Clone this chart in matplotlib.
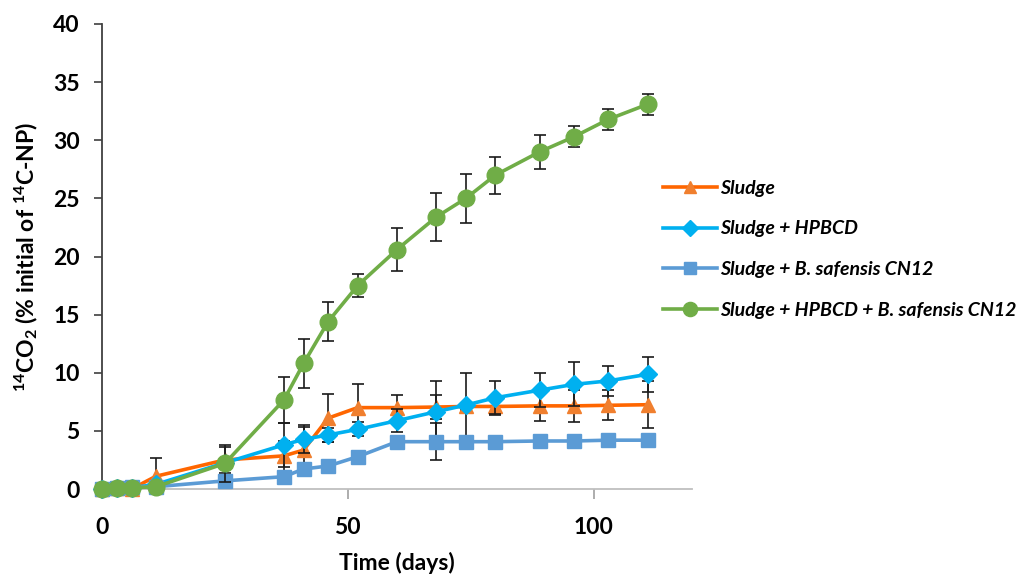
import numpy as np
import matplotlib
matplotlib.use("Agg")
import matplotlib.pyplot as plt

plt.rcParams['font.family'] = ['Lato', 'DejaVu Sans']
plt.rcParams['font.weight'] = 'bold'
plt.rcParams['mathtext.fontset'] = 'custom'
plt.rcParams['mathtext.rm'] = 'Lato:bold'
plt.rcParams['mathtext.it'] = 'Lato:bold'
plt.rcParams['mathtext.bf'] = 'Lato:bold'

days = [0, 3, 6, 11, 25, 37, 41, 46, 52, 60, 68, 74, 80, 89, 96, 103, 111]

sludge = [0, 0.05, 0, 1.1, 2.5, 2.85, 3.35, 6.1, 7.0, 7.0, 7.05, 7.1, 7.1, 7.15, 7.15, 7.2, 7.25]
sludge_err = [0, 0, 0, 1.6, 1.1, 1.3, 2.0, 2.05, 2.0, 1.1, 1.05, 0.3, 0.7, 1.3, 1.4, 1.3, 2.0]

hpbcd = [0, 0.1, 0.1, 0.4, 2.25, 3.8, 4.27, 4.65, 5.13, 5.88, 6.65, 7.22, 7.85, 8.5, 9.0, 9.3, 9.87]
hpbcd_err = [0, 0, 0, 0.2, 0.3, 1.9, 1.2, 0.6, 0.6, 1.0, 2.65, 2.75, 1.4, 1.45, 1.9, 1.3, 1.5]

safensis = [0, 0.1, 0.2, 0.2, 0.7, 1.06, 1.72, 1.98, 2.78, 4.07, 4.07, 4.07, 4.07, 4.13, 4.13, 4.2, 4.2]
safensis_err = [0, 0, 0, 0.1, 0.2, 0.3, 0.3, 0.2, 0.3, 0.2, 1.6, 0.2, 0.2, 0.2, 0.2, 0.2, 0.2]

combo = [0, 0.05, 0.1, 0.2, 2.2, 7.66, 10.8, 14.4, 17.5, 20.6, 23.4, 25.0, 27.0, 29.0, 30.3, 31.8, 33.1]
combo_err = [0, 0, 0, 0.1, 1.6, 2.0, 2.1, 1.7, 1.0, 1.85, 2.05, 2.1, 1.6, 1.45, 0.9, 0.9, 0.9]

labels = ["Sludge", "Sludge + HPBCD", "Sludge + B. safensis CN12",
          "Sludge + HPBCD + B. safensis CN12"]

fig = plt.figure(figsize=(10.26, 5.77), dpi=100)
ax = fig.add_axes([102/1026, 88/577, 590/1026, 465/577])

series = [
    (sludge, sludge_err, '#FF6600', '#F07F2E', '^', 10.5),
    (hpbcd, hpbcd_err, '#00B0F0', '#00B0F0', 'D', 9),
    (safensis, safensis_err, '#5B9BD5', '#5B9BD5', 's', 10),
    (combo, combo_err, '#70AD47', '#70AD47', 'o', 12),
]

handles = []
for i, ((vals, err, lc, mc, mk, ms), lab) in enumerate(zip(series, labels)):
    e = np.array(err)
    keep = e > 0
    ax.errorbar(np.array(days)[keep], np.array(vals)[keep], yerr=e[keep],
                fmt='none', ecolor='#1a1a1a', elinewidth=1.2, capsize=4.3,
                capthick=1.2, zorder=3 + 2 * i)
    h, = ax.plot(days, vals, color=lc, lw=2.6, marker=mk, ms=ms,
                 markerfacecolor=mc, markeredgecolor=mc, label=lab,
                 zorder=4 + 2 * i, clip_on=False)
    handles.append(h)

ax.set_xlim(0, 120)
ax.set_ylim(0, 40)
ax.set_xticks([0, 50, 100])
ax.set_yticks(np.arange(0, 41, 5))

for s in ['top', 'right']:
    ax.spines[s].set_visible(False)
ax.spines['left'].set_color('#404040')
ax.spines['left'].set_linewidth(1.3)
ax.spines['bottom'].set_color('#BFBFBF')
ax.spines['bottom'].set_linewidth(1.3)

ax.tick_params(axis='y', direction='out', length=6, width=1.2, color='#404040',
               labelsize=16.5, pad=10)
ax.tick_params(axis='x', direction='out', length=7, width=1.2, color='#A0A0A0',
               labelsize=16.5, pad=13)

ax.set_xlabel("Time (days)", fontsize=16.5, fontweight='bold', labelpad=10)
ax.set_ylabel("$^{14}$CO$_2$ (% initial of $^{14}$C-NP)", fontsize=16.5,
              fontweight='bold')
ax.yaxis.set_label_coords(-0.105, 0.5)

fig.legend(handles=handles, labels=labels, loc='upper left',
           bbox_to_anchor=(655/1026, 1 - 172/577), frameon=False,
           prop={'style': 'italic', 'weight': 'bold', 'size': 14},
           handlelength=2.8, handletextpad=0.15, labelspacing=1.22,
           markerscale=0.85, borderaxespad=0)

fig.savefig("out.png", dpi=100)
